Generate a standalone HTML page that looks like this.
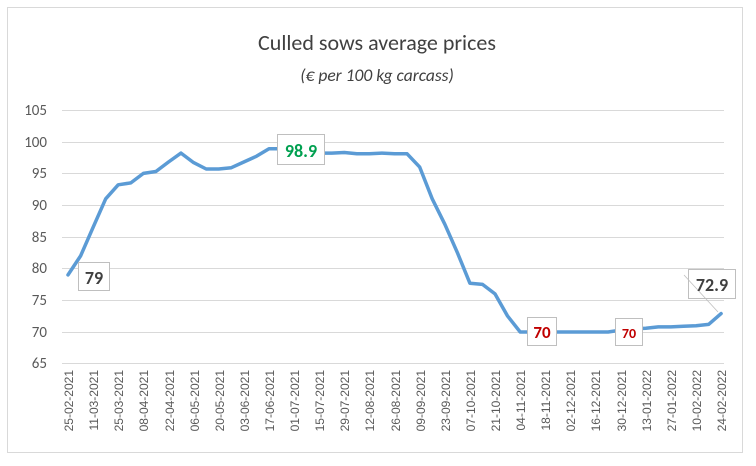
<!DOCTYPE html>
<html><head><style>body{margin:0;background:#fff}svg{display:block}</style></head><body>
<svg width="756" height="466" xmlns="http://www.w3.org/2000/svg" font-family="Calibri, Carlito, 'Liberation Sans', sans-serif">
<rect x="7.5" y="7.5" width="735" height="445" fill="#fff" stroke="#d9d9d9"/>
<text x="377" y="50" text-anchor="middle" font-size="22" fill="#404040">Culled sows average prices</text>
<text x="377" y="81" text-anchor="middle" font-size="17.5" font-style="italic" fill="#404040">(€ per 100 kg carcass)</text>
<g stroke="#d9d9d9" stroke-width="1">
<line x1="62" x2="724" y1="110.5" y2="110.5"/><line x1="62" x2="724" y1="142.5" y2="142.5"/>
<line x1="62" x2="724" y1="173.5" y2="173.5"/><line x1="62" x2="724" y1="205.5" y2="205.5"/>
<line x1="62" x2="724" y1="237.5" y2="237.5"/><line x1="62" x2="724" y1="268.5" y2="268.5"/>
<line x1="62" x2="724" y1="300.5" y2="300.5"/><line x1="62" x2="724" y1="332.5" y2="332.5"/>
<line x1="62" x2="724" y1="363.5" y2="363.5"/>
</g>
<g font-size="15" fill="#595959" text-anchor="end">
<text x="47" y="115">105</text><text x="47" y="147">100</text><text x="47" y="178">95</text>
<text x="47" y="210">90</text><text x="47" y="242">85</text><text x="47" y="273">80</text>
<text x="47" y="305">75</text><text x="47" y="337">70</text><text x="47" y="368">65</text>
</g>
<g font-size="12" fill="#595959" text-anchor="end" font-family="'Liberation Sans', sans-serif">
<text transform="translate(73,370) rotate(-90)">25-02-2021</text>
<text transform="translate(98,370) rotate(-90)">11-03-2021</text>
<text transform="translate(123,370) rotate(-90)">25-03-2021</text>
<text transform="translate(148,370) rotate(-90)">08-04-2021</text>
<text transform="translate(174,370) rotate(-90)">22-04-2021</text>
<text transform="translate(199,370) rotate(-90)">06-05-2021</text>
<text transform="translate(224,370) rotate(-90)">20-05-2021</text>
<text transform="translate(249,370) rotate(-90)">03-06-2021</text>
<text transform="translate(274,370) rotate(-90)">17-06-2021</text>
<text transform="translate(299,370) rotate(-90)">01-07-2021</text>
<text transform="translate(324,370) rotate(-90)">15-07-2021</text>
<text transform="translate(349,370) rotate(-90)">29-07-2021</text>
<text transform="translate(374,370) rotate(-90)">12-08-2021</text>
<text transform="translate(400,370) rotate(-90)">26-08-2021</text>
<text transform="translate(425,370) rotate(-90)">09-09-2021</text>
<text transform="translate(450,370) rotate(-90)">23-09-2021</text>
<text transform="translate(475,370) rotate(-90)">07-10-2021</text>
<text transform="translate(500,370) rotate(-90)">21-10-2021</text>
<text transform="translate(525,370) rotate(-90)">04-11-2021</text>
<text transform="translate(550,370) rotate(-90)">18-11-2021</text>
<text transform="translate(575,370) rotate(-90)">02-12-2021</text>
<text transform="translate(600,370) rotate(-90)">16-12-2021</text>
<text transform="translate(626,370) rotate(-90)">30-12-2021</text>
<text transform="translate(651,370) rotate(-90)">13-01-2022</text>
<text transform="translate(676,370) rotate(-90)">27-01-2022</text>
<text transform="translate(701,370) rotate(-90)">10-02-2022</text>
<text transform="translate(726,370) rotate(-90)">24-02-2022</text>
</g>
<polyline id="ln" fill="none" stroke="#5b9bd5" stroke-width="3.5" stroke-linejoin="round" stroke-linecap="round"/>
<g stroke="#bfbfbf" fill="#fff">
<rect x="78.5" y="262.5" width="31" height="28"/>
<rect x="277.5" y="134.5" width="47" height="30"/>
<rect x="527.5" y="317.5" width="29" height="28"/>
<rect x="615.5" y="318.5" width="27" height="27"/>
<rect x="688.5" y="269.5" width="47" height="29"/>
</g>
<g stroke="#bfbfbf" stroke-width="0.8"><line x1="684" y1="275" x2="718" y2="312"/></g>
<g font-weight="bold" text-anchor="middle">
<text x="94" y="284" font-size="18" fill="#404040">79</text>
<text x="301" y="157" font-size="18" fill="#00a050">98.9</text>
<text x="542" y="338" font-size="17" fill="#c00000">70</text>
<text x="629" y="338" font-size="14" fill="#c00000">70</text>
<text x="712" y="291" font-size="18" fill="#404040">72.9</text>
</g>
<script>
var v=[79,82,86.5,91,93.2,93.5,95,95.3,96.8,98.2,96.7,95.7,95.7,95.9,96.8,97.7,98.9,98.9,98.6,98.3,98.2,98.2,98.3,98.1,98.1,98.2,98.1,98.1,96,91,87,82.5,77.7,77.5,76,72.5,70,70,70,70,70,70,70,70,70.3,70.5,70.6,70.8,70.8,70.9,71,71.2,72.9];
var p=v.map(function(y,i){return (68+i*12.56).toFixed(1)+','+(332-(y-70)*6.343).toFixed(1)}).join(' ');
document.getElementById('ln').setAttribute('points',p);
</script>
</svg>
</body></html>
